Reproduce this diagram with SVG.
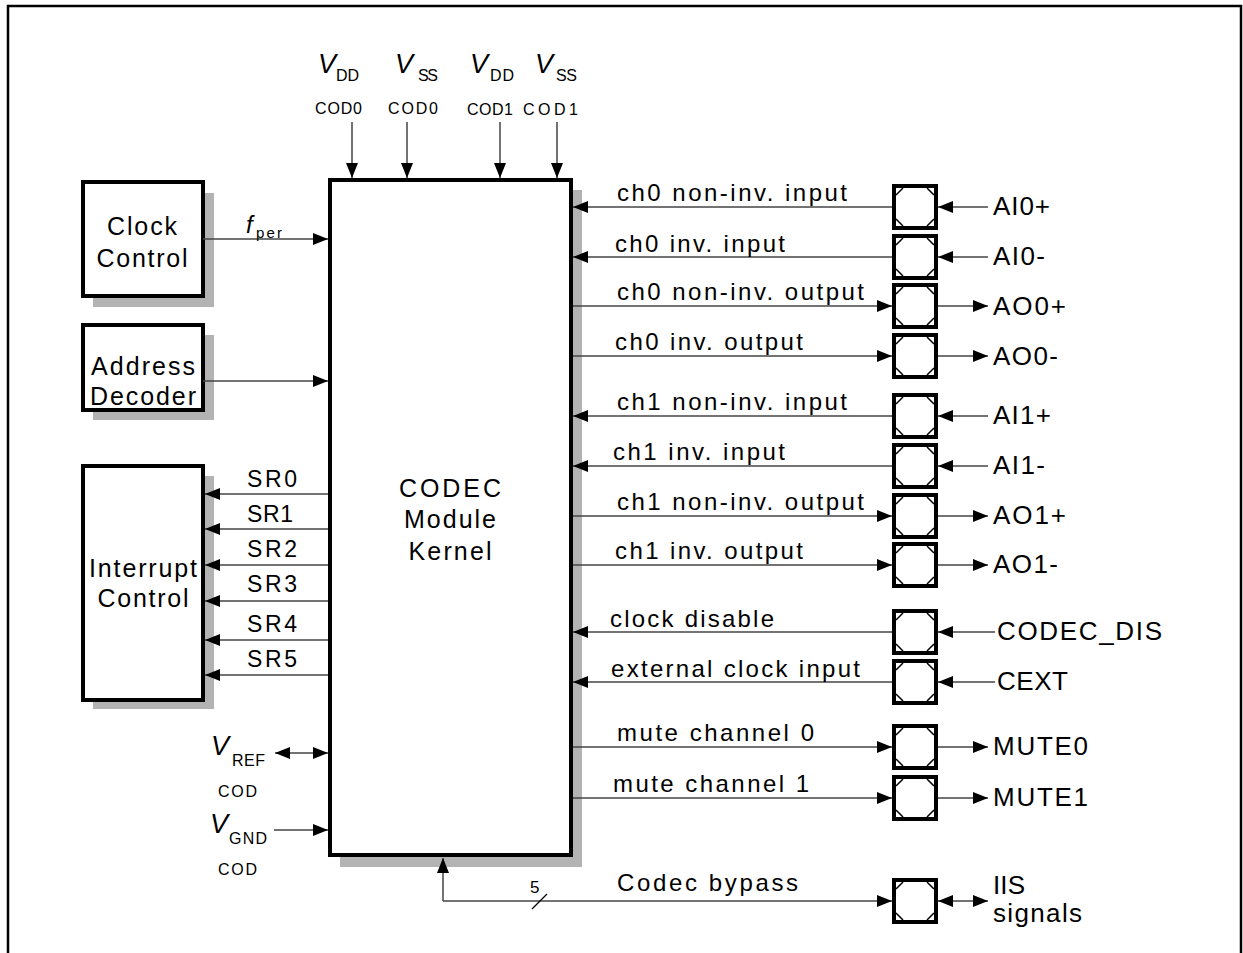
<svg xmlns="http://www.w3.org/2000/svg" xmlns:xlink="http://www.w3.org/1999/xlink" width="1243" height="953" viewBox="0 0 1243 953">
<style>
text{font-family:"Liberation Sans",Arial,sans-serif;fill:#000}
.lbl{font-size:24px}
.rl{font-size:26px}
.blk{font-size:25px;text-anchor:middle}
.sr{font-size:23px}
.vi{font-size:27px;font-style:italic}
.sub{font-size:16px}
.box{fill:#fff;stroke:#000;stroke-width:4}
.sh{fill:#b3b3b3;stroke:none}
.c{stroke:#444;stroke-width:1.5;fill:none}
</style>
<defs>
<marker id="arr" viewBox="0 0 15 12" refX="15" refY="6" markerWidth="15" markerHeight="12" markerUnits="userSpaceOnUse" orient="auto-start-reverse">
<path d="M0,0 L15,6 L0,12 z" fill="#000"/>
</marker>
<g id="pad">
<rect x="-21" y="-21" width="42" height="42" fill="#fff" stroke="#000" stroke-width="4"/>
<path d="M-19,-12 L-12,-19 M12,-19 L19,-12 M19,12 L12,19 M-12,19 L-19,12" stroke="#000" stroke-width="1.5" fill="none"/>
</g>
</defs>
<rect width="1243" height="953" fill="#fff"/>
<path d="M8,953 V6 H1241 V953" fill="none" stroke="#000" stroke-width="2.5"/>

<g id="clock-control">
<rect class="sh" x="93" y="193" width="121" height="114"/>
<rect class="box" x="83" y="182" width="120" height="114"/>
<text class="blk" x="142" y="235" textLength="70" lengthAdjust="spacing">Clock</text>
<text class="blk" x="142" y="267" textLength="91" lengthAdjust="spacing">Control</text>
</g>
<g id="address-decoder">
<rect class="sh" x="93" y="335" width="121" height="85"/>
<rect class="box" x="83" y="325" width="120" height="85"/>
<text class="blk" x="143" y="375" textLength="104" lengthAdjust="spacing">Address</text>
<text class="blk" x="143" y="405" textLength="106" lengthAdjust="spacing">Decoder</text>
</g>
<g id="interrupt-control">
<rect class="sh" x="93" y="476" width="121" height="233"/>
<rect class="box" x="83" y="466" width="120" height="234"/>
<text class="blk" x="143" y="577" textLength="108" lengthAdjust="spacing">Interrupt</text>
<text class="blk" x="143" y="607" textLength="91" lengthAdjust="spacing">Control</text>
</g>
<g id="codec-kernel">
<rect class="sh" x="340" y="190" width="242" height="677"/>
<rect class="box" x="330" y="180" width="241" height="675"/>
<text class="blk" x="450" y="497" textLength="102" lengthAdjust="spacing">CODEC</text>
<text class="blk" x="450" y="528" textLength="92" lengthAdjust="spacing">Module</text>
<text class="blk" x="450" y="560" textLength="83" lengthAdjust="spacing">Kernel</text>
</g>

<g id="pads">
<use xlink:href="#pad" href="#pad" x="915" y="207"/>
<use xlink:href="#pad" href="#pad" x="915" y="257"/>
<use xlink:href="#pad" href="#pad" x="915" y="306"/>
<use xlink:href="#pad" href="#pad" x="915" y="356"/>
<use xlink:href="#pad" href="#pad" x="915" y="416"/>
<use xlink:href="#pad" href="#pad" x="915" y="466"/>
<use xlink:href="#pad" href="#pad" x="915" y="516"/>
<use xlink:href="#pad" href="#pad" x="915" y="565"/>
<use xlink:href="#pad" href="#pad" x="915" y="632"/>
<use xlink:href="#pad" href="#pad" x="915" y="682"/>
<use xlink:href="#pad" href="#pad" x="915" y="747"/>
<use xlink:href="#pad" href="#pad" x="915" y="798"/>
<use xlink:href="#pad" href="#pad" x="915" y="901"/>
</g>

<g id="connectors" marker-end="url(#arr)">
<path class="c" d="M352,122 V178"/>
<path class="c" d="M407,122 V178"/>
<path class="c" d="M500,122 V178"/>
<path class="c" d="M557,122 V178"/>
<path class="c" d="M203,239 H328"/>
<path class="c" d="M203,381 H328"/>
<path class="c" d="M328,494 H205"/>
<path class="c" d="M328,529 H205"/>
<path class="c" d="M328,565 H205"/>
<path class="c" d="M328,601 H205"/>
<path class="c" d="M328,640 H205"/>
<path class="c" d="M328,675 H205"/>
<path class="c" d="M275,753 H328" marker-start="url(#arr)"/>
<path class="c" d="M274,830 H328"/>
<path class="c" d="M892,207 H573"/><path class="c" d="M988,207 H938"/>
<path class="c" d="M892,257 H573"/><path class="c" d="M988,257 H938"/>
<path class="c" d="M573,306 H892"/><path class="c" d="M938,306 H988"/>
<path class="c" d="M573,356 H892"/><path class="c" d="M938,356 H988"/>
<path class="c" d="M892,416 H573"/><path class="c" d="M988,416 H938"/>
<path class="c" d="M892,466 H573"/><path class="c" d="M988,466 H938"/>
<path class="c" d="M573,516 H892"/><path class="c" d="M938,516 H988"/>
<path class="c" d="M573,565 H892"/><path class="c" d="M938,565 H988"/>
<path class="c" d="M892,632 H573"/><path class="c" d="M995,632 H938"/>
<path class="c" d="M892,682 H573"/><path class="c" d="M995,682 H938"/>
<path class="c" d="M573,747 H892"/><path class="c" d="M938,747 H988"/>
<path class="c" d="M573,798 H892"/><path class="c" d="M938,798 H988"/>
<path class="c" d="M443,901 V858"/>
<path class="c" d="M443,901 H892"/>
<path class="c" d="M938,901 H988" marker-start="url(#arr)"/>
<path d="M532,909 L547,894" stroke="#000" stroke-width="1.2" fill="none" marker-end="none"/>
</g>

<g id="labels">
<text class="vi" x="318" y="73">V</text><text class="sub" x="336" y="81" textLength="23" lengthAdjust="spacing">DD</text>
<text class="sub" x="315" y="114" textLength="47" lengthAdjust="spacing">COD0</text>
<text class="vi" x="395" y="73">V</text><text class="sub" x="418" y="81" textLength="20" lengthAdjust="spacing">SS</text>
<text class="sub" x="388" y="114" textLength="50" lengthAdjust="spacing">COD0</text>
<text class="vi" x="470" y="73">V</text><text class="sub" x="490" y="81" textLength="24" lengthAdjust="spacing">DD</text>
<text class="sub" x="467" y="115" textLength="46" lengthAdjust="spacing">COD1</text>
<text class="vi" x="535" y="73">V</text><text class="sub" x="556" y="81" textLength="21" lengthAdjust="spacing">SS</text>
<text class="sub" x="523" y="115" textLength="55" lengthAdjust="spacing">COD1</text>

<text x="246" y="233" style="font-size:24px;font-style:italic">f</text>
<text x="256" y="238" style="font-size:15px" textLength="26" lengthAdjust="spacing">per</text>

<text class="sr" x="247" y="487" textLength="50" lengthAdjust="spacing">SR0</text>
<text class="sr" x="247" y="522" textLength="46" lengthAdjust="spacing">SR1</text>
<text class="sr" x="247" y="557" textLength="50" lengthAdjust="spacing">SR2</text>
<text class="sr" x="247" y="592" textLength="50" lengthAdjust="spacing">SR3</text>
<text class="sr" x="247" y="632" textLength="50" lengthAdjust="spacing">SR4</text>
<text class="sr" x="247" y="667" textLength="50" lengthAdjust="spacing">SR5</text>

<text class="vi" x="211" y="755">V</text><text class="sub" x="232" y="766" textLength="33" lengthAdjust="spacing">REF</text>
<text class="sub" x="218" y="797" textLength="39" lengthAdjust="spacing">COD</text>
<text class="vi" x="210" y="833">V</text><text class="sub" x="229" y="844" textLength="38" lengthAdjust="spacing">GND</text>
<text class="sub" x="218" y="875" textLength="39" lengthAdjust="spacing">COD</text>

<text class="lbl" x="617" y="201" textLength="230" lengthAdjust="spacing">ch0 non-inv. input</text>
<text class="lbl" x="615" y="252" textLength="170" lengthAdjust="spacing">ch0 inv. input</text>
<text class="lbl" x="617" y="300" textLength="247" lengthAdjust="spacing">ch0 non-inv. output</text>
<text class="lbl" x="615" y="350" textLength="188" lengthAdjust="spacing">ch0 inv. output</text>
<text class="lbl" x="617" y="410" textLength="230" lengthAdjust="spacing">ch1 non-inv. input</text>
<text class="lbl" x="613" y="460" textLength="172" lengthAdjust="spacing">ch1 inv. input</text>
<text class="lbl" x="617" y="510" textLength="247" lengthAdjust="spacing">ch1 non-inv. output</text>
<text class="lbl" x="615" y="559" textLength="188" lengthAdjust="spacing">ch1 inv. output</text>
<text class="lbl" x="610" y="627" textLength="164" lengthAdjust="spacing">clock disable</text>
<text class="lbl" x="611" y="677" textLength="249" lengthAdjust="spacing">external clock input</text>
<text class="lbl" x="617" y="741" textLength="197" lengthAdjust="spacing">mute channel 0</text>
<text class="lbl" x="613" y="792" textLength="196" lengthAdjust="spacing">mute channel 1</text>
<text class="lbl" x="617" y="891" textLength="181" lengthAdjust="spacing">Codec bypass</text>
<text x="530" y="893" style="font-size:17px">5</text>

<text class="rl" x="993" y="215" textLength="57" lengthAdjust="spacing">AI0+</text>
<text class="rl" x="993" y="265" textLength="52" lengthAdjust="spacing">AI0-</text>
<text class="rl" x="993" y="315" textLength="73" lengthAdjust="spacing">AO0+</text>
<text class="rl" x="993" y="365" textLength="65" lengthAdjust="spacing">AO0-</text>
<text class="rl" x="993" y="424" textLength="58" lengthAdjust="spacing">AI1+</text>
<text class="rl" x="993" y="474" textLength="52" lengthAdjust="spacing">AI1-</text>
<text class="rl" x="993" y="524" textLength="73" lengthAdjust="spacing">AO1+</text>
<text class="rl" x="993" y="573" textLength="65" lengthAdjust="spacing">AO1-</text>
<text class="rl" x="997" y="640" textLength="165" lengthAdjust="spacing">CODEC_DIS</text>
<text class="rl" x="997" y="690" textLength="71" lengthAdjust="spacing">CEXT</text>
<text class="rl" x="993" y="755" textLength="95" lengthAdjust="spacing">MUTE0</text>
<text class="rl" x="993" y="806" textLength="95" lengthAdjust="spacing">MUTE1</text>
<text class="rl" x="993" y="894" textLength="32" lengthAdjust="spacing">IIS</text>
<text class="rl" x="993" y="922" textLength="89" lengthAdjust="spacing">signals</text>
</g>
</svg>
